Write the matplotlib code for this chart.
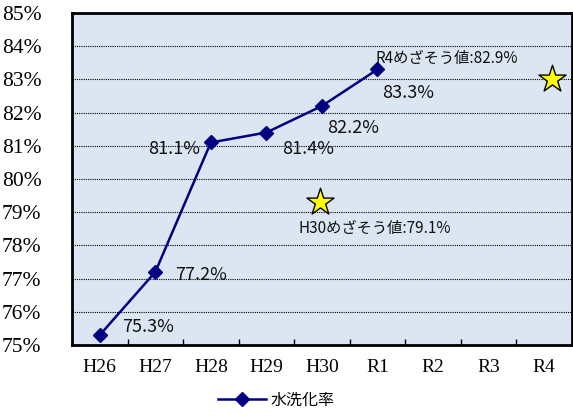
import matplotlib
matplotlib.use("Agg")
import matplotlib.pyplot as plt
from matplotlib.ticker import FixedLocator, FuncFormatter

categories = ["H26", "H27", "H28", "H29", "H30", "R1", "R2", "R3", "R4"]
rate = [75.3, 77.2, 81.1, 81.4, 82.2, 83.3]
rate_labels = ["75.3%", "77.2%", "81.1%", "81.4%", "82.2%", "83.3%"]
target_cat = ["H30", "R4"]
target_vals = [79.3, 83.0]
target_labels = ["H30めざそう値:79.1%", "R4めざそう値:82.9%"]
series_name = "水洗化率"

jp = ["Noto Sans CJK JP", "DejaVu Sans"]
serif = ["Liberation Serif", "DejaVu Serif"]

fig = plt.figure(figsize=(5.73, 4.16), dpi=100)
ax = fig.add_axes([72/573, 71/416, 1 - 72/573 - 0.002, (345-13)/416])
ax.set_facecolor("#DCE6F2")

x = list(range(len(rate)))
line, = ax.plot(x, rate, color="#000080", lw=1.8, marker="D", ms=7,
                markerfacecolor="#000080", markeredgecolor="#000080",
                label=series_name, zorder=4)

# targets as stars
tx = [categories.index(c) for c in target_cat]
offs = [-0.04, 0.14]
ax.scatter([t + o for t, o in zip(tx, offs)], target_vals, marker="*", s=420,
           facecolor="#FFFF00", edgecolor="black", linewidth=1.0, zorder=5)

# data labels
lbl_off = [(0.40, 0.25), (0.36, -0.1), (-1.13, -0.2), (0.29, -0.5), (0.1, -0.65), (0.09, -0.7)]
for i, (v, t) in enumerate(zip(rate, rate_labels)):
    dx, dy = lbl_off[i]
    ax.text(i + dx, v + dy, t, family=jp, fontsize=13, va="center", ha="left",
            color="#111111", zorder=6)

ax.text(4.95, 78.5, target_labels[0], family=jp, fontsize=11, ha="center",
        va="center", color="#111111", zorder=6)
ax.text(6.25, 83.62, target_labels[1], family=jp, fontsize=11, ha="center",
        va="center", color="#111111", zorder=6)

ax.set_xlim(-0.5, len(categories) - 0.5)
ax.set_ylim(75, 85)
ax.yaxis.set_major_locator(FixedLocator(list(range(75, 86))))
ax.yaxis.set_major_formatter(FuncFormatter(lambda v, p: f"{int(v)}%"))
ax.grid(axis="y", color="black", linestyle=(0, (1, 1)), linewidth=0.8, zorder=1)
ax.set_axisbelow(True)

ax.set_xticks(range(len(categories)))
ax.set_xticklabels(categories, family=serif, fontsize=14)
ax.set_xticks([i + 0.5 for i in range(len(categories) - 1)], minor=True)
ax.tick_params(axis="x", which="major", length=0, pad=10)
ax.tick_params(axis="x", which="minor", direction="in", length=4, width=1)
ax.tick_params(axis="y", length=0, pad=22)
for lab in ax.get_yticklabels():
    lab.set_family(serif)
    lab.set_fontsize(15.5)

for s in ax.spines.values():
    s.set_linewidth(2)
    s.set_color("black")

leg = fig.legend(handles=[line], loc="center", bbox_to_anchor=(0.482, 0.038),
                 frameon=False, prop={"family": jp, "size": 11.5},
                 handlelength=3.0, handletextpad=0.3)

fig.savefig("out.png", dpi=100)
